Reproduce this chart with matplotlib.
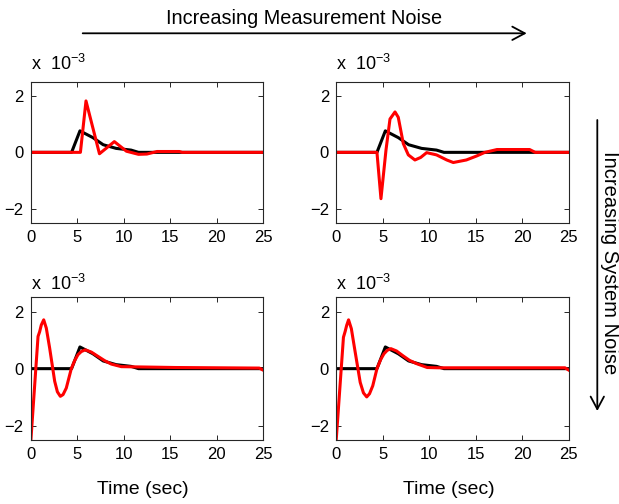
import matplotlib
matplotlib.use("Agg")
import matplotlib.pyplot as plt
from matplotlib.patches import FancyArrowPatch

plt.rcParams['font.family'] = ['Liberation Sans', 'DejaVu Sans']
plt.rcParams['mathtext.default'] = 'regular'

# ---- data (values in units of 1e-3) ----
t_black = [0, 4.4, 5.3, 6.7, 7.8, 9.2, 10.8, 11.6, 25]
y_black = [0, 0, 0.76, 0.52, 0.27, 0.14, 0.08, 0, 0]

t_red_tl = [0, 5.35, 5.95, 7.4, 9.0, 10.3, 11.6, 12.5, 13.6, 16.0, 16.3, 25]
y_red_tl = [0, 0, 1.82, -0.05, 0.38, 0.04, -0.07, -0.06, 0.03, 0.03, 0, 0]

t_red_tr = [0, 4.4, 4.83, 5.37, 5.8, 6.34, 6.69, 7.23, 7.77, 8.48, 9.1, 9.74,
            10.8, 11.9, 12.6, 14.0, 15.1, 16.0, 17.3, 20.8, 21.4, 25]
y_red_tr = [0, 0, -1.64, 0.08, 1.18, 1.43, 1.24, 0.31, -0.09, -0.27, -0.18, -0.01,
            -0.09, -0.27, -0.36, -0.27, -0.13, 0, 0.1, 0.1, 0, 0]

t_red_bl = [0, 0.79, 0.96, 1.14, 1.4, 1.68, 2.04, 2.58, 2.87, 3.19, 3.48, 3.83,
            4.37, 4.73, 5.09, 5.45, 5.88, 6.53, 7.24, 7.96, 8.68, 9.75, 15.6, 24.6, 25]
y_red_bl = [-2.6, 1.13, 1.29, 1.53, 1.71, 1.42, 0.72, -0.44, -0.81, -0.97, -0.91,
            -0.68, 0.0, 0.28, 0.49, 0.6, 0.66, 0.58, 0.43, 0.28, 0.16, 0.07, 0.04,
            0.02, -0.05]

t_red_br = [0, 0.8, 0.98, 1.15, 1.35, 1.65, 2.0, 2.6, 2.95, 3.3, 3.6, 3.95,
            4.4, 4.8, 5.15, 5.5, 5.9, 6.5, 7.2, 7.9, 8.7, 9.8, 11.0, 24.6, 25]
y_red_br = [-2.6, 1.1, 1.3, 1.52, 1.71, 1.4, 0.7, -0.48, -0.85, -0.99, -0.88,
            -0.6, 0.0, 0.32, 0.52, 0.64, 0.7, 0.62, 0.45, 0.29, 0.17, 0.04, 0.03,
            0.03, -0.05]

x_ticks = [0, 5, 10, 15, 20, 25]
y_ticks = [-2, 0, 2]

title_top = "Increasing Measurement Noise"
title_side = "Increasing System Noise"
xlabel = "Time (sec)"
scale_label = r"x  10$^{-3}$"

W, H = 619, 504
fig = plt.figure(figsize=(W / 100, H / 100), dpi=100)

def frac(px_l, px_t, px_r, px_b):
    return [px_l / W, 1 - px_b / H, (px_r - px_l) / W, (px_b - px_t) / H]

panels = [
    (frac(30.7, 81.7, 263, 223), t_red_tl, y_red_tl, 70),
    (frac(336, 81.7, 568.7, 223), t_red_tr, y_red_tr, 70),
    (frac(30.7, 297.3, 263, 440), t_red_bl, y_red_bl, 289.5),
    (frac(336, 297.3, 568.7, 440), t_red_br, y_red_br, 289.5),
]

for i, (pos, tr, yr, lab_y) in enumerate(panels):
    ax = fig.add_axes(pos)
    ax.plot(t_black, y_black, color='black', lw=2.2)
    ax.plot(tr, yr, color='#ff0000', lw=2.2)
    ax.set_xlim(0, 25)
    ax.set_ylim(-2.5, 2.5)
    ax.set_xticks(x_ticks)
    ax.set_yticks(y_ticks)
    ax.tick_params(direction='in', length=3.5, width=0.7, top=True, right=True,
                   labelsize=12, pad=5, color='#262626')
    for s in ax.spines.values():
        s.set_linewidth(0.8)
        s.set_color('#262626')
    fig.text((pos[0] * W + 0.5) / W, 1 - lab_y / H, scale_label, fontsize=13,
             ha='left', va='baseline')
    if i >= 2:
        fig.text((pos[0] + pos[2] / 2) - 4 / W, 1 - 489 / H, xlabel, fontsize=14,
                 ha='center', va='center')

fig.text(304 / W, 1 - 18 / H, title_top, fontsize=14.3, ha='center', va='center')
fig.add_artist(FancyArrowPatch((82.7 / W, 1 - 33.3 / H), (526.7 / W, 1 - 33.3 / H),
                               transform=fig.transFigure,
                               arrowstyle='->,head_length=9,head_width=4.8',
                               lw=1.3, color='black', shrinkA=0, shrinkB=0))

fig.text(610 / W, 1 - 262.5 / H, title_side, fontsize=14.5, rotation=-90,
         ha='center', va='center')
fig.add_artist(FancyArrowPatch((597.3 / W, 1 - 120 / H), (597.3 / W, 1 - 411 / H),
                               transform=fig.transFigure,
                               arrowstyle='->,head_length=9,head_width=4.8',
                               lw=1.3, color='black', shrinkA=0, shrinkB=0))

fig.savefig("out.png", dpi=100)
